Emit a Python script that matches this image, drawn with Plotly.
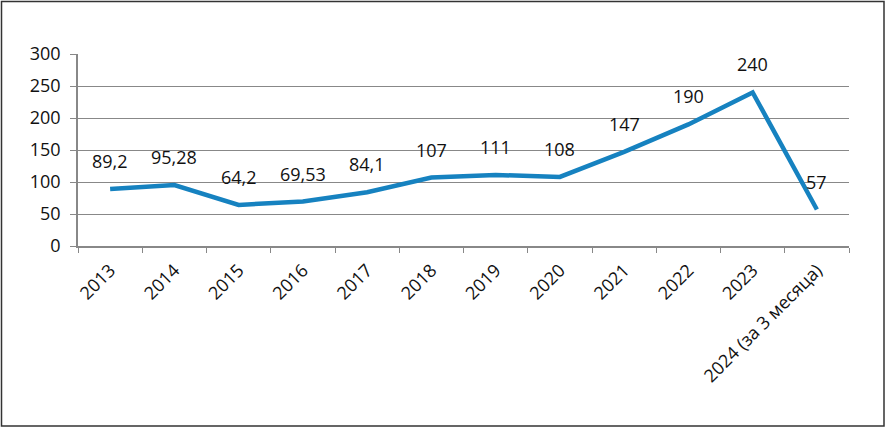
import plotly.graph_objects as go

years = ["2013", "2014", "2015", "2016", "2017", "2018", "2019", "2020",
         "2021", "2022", "2023", "2024 (за 3 месяца)"]
values = [89.2, 95.28, 64.2, 69.53, 84.1, 107, 111, 108, 147, 190, 240, 57]
labels = ["89,2", "95,28", "64,2", "69,53", "84,1", "107", "111", "108",
          "147", "190", "240", "57"]
yticks = [0, 50, 100, 150, 200, 250, 300]

W, H = 886, 428
ml, mr, mt, mb = 78, 37, 54, 182
pw, ph = W - ml - mr, H - mt - mb

FONT = "Open Sans"
LINE = "#1682C0"
GRAY = "#888888"

fig = go.Figure()
fig.add_trace(go.Scatter(x=years, y=values, mode="lines",
                         line=dict(color=LINE, width=4.5), hoverinfo="skip"))

for i, (yv, t) in enumerate(zip(values, labels)):
    fig.add_annotation(x=i, y=yv, text=t, showarrow=False, yshift=28,
                       font=dict(family=FONT, size=18, color="#111111"))

# outer border
fig.add_shape(type="rect", xref="paper", yref="paper",
              x0=(1.5 - ml) / pw, x1=(W - 2 - ml) / pw,
              y0=-(H - 2 - mt - ph) / ph, y1=(ph + mt - 1.5) / ph,
              line=dict(color="#333333", width=1.5), layer="below")

fig.update_layout(
    width=W, height=H, margin=dict(l=ml, r=mr, t=mt, b=mb, autoexpand=False),
    plot_bgcolor="white", paper_bgcolor="white", showlegend=False,
    font=dict(family=FONT, size=17, color="#111111"),
    xaxis=dict(type="category", tickson="boundaries", ticks="outside",
               ticklen=5, tickcolor=GRAY, showgrid=False, showline=True,
               linecolor=GRAY, linewidth=1.5, tickangle=-45,
               ticklabelstandoff=5,
               tickfont=dict(family=FONT, size=18), range=[-0.5, 11.5]),
    yaxis=dict(range=[0, 300], tickvals=yticks, ticks="outside", ticklen=6,
               tickcolor=GRAY, showgrid=True, gridcolor=GRAY, gridwidth=1,
               showline=True, linecolor=GRAY, linewidth=1.5, zeroline=False,
               ticklabelstandoff=6,
               tickfont=dict(family=FONT, size=18)),
)

fig.write_html("out.html", config={"displayModeBar": False},
               post_script="document.body.style.margin='0';document.body.style.padding='0';")
